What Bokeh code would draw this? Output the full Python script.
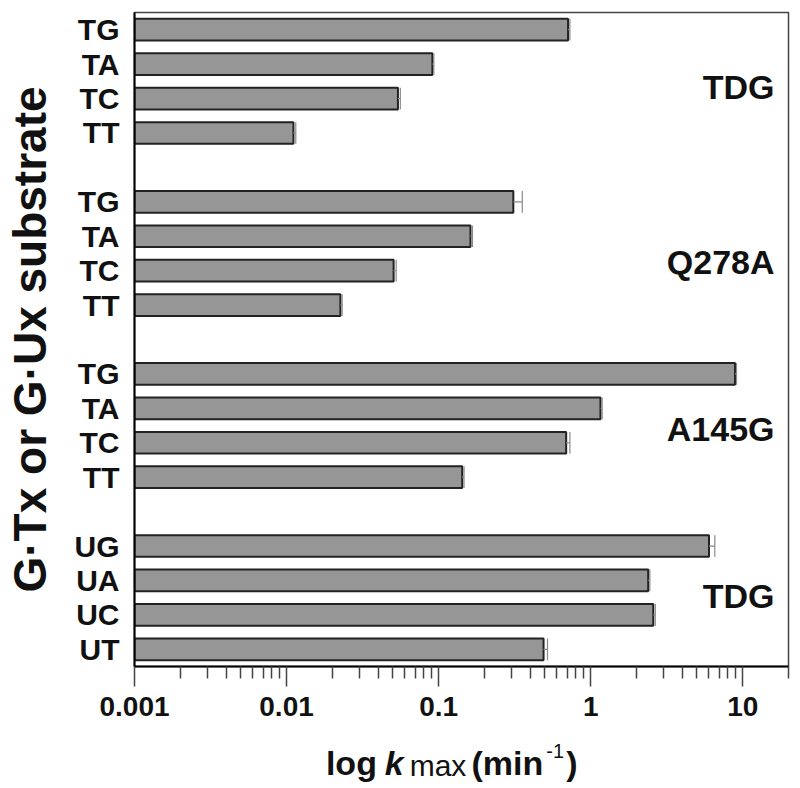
from bokeh.plotting import figure
from bokeh.layouts import column
from bokeh.models import Range1d, FixedTicker, Label, ColumnDataSource
from bokeh.core.properties import value
from bokeh.embed import file_html
from bokeh.resources import INLINE

# ---- data ----
groups = ["TDG", "Q278A", "A145G", "TDG"]
substrates_t = ["TG", "TA", "TC", "TT"]
substrates_u = ["UG", "UA", "UC", "UT"]

kmax_tdg_t = [0.71, 0.091, 0.054, 0.0111]
err_tdg_t = [0.02, 0.002, 0.002, 0.0004]
kmax_q278a = [0.31, 0.162, 0.0506, 0.0226]
err_q278a = [0.045, 0.005, 0.002, 0.0006]
kmax_a145g = [8.9, 1.16, 0.69, 0.143]
err_a145g = [0.2, 0.03, 0.04, 0.004]
kmax_tdg_u = [6.0, 2.39, 2.58, 0.49]
err_tdg_u = [0.55, 0.06, 0.08, 0.03]

x_ticks = [0.001, 0.01, 0.1, 1, 10]
x_tick_labels = ["0.001", "0.01", "0.1", "1", "10"]
y_title = "G\u00b7Tx or G\u00b7Ux substrate"
x_title_parts = ["log", "k", "max", "(min", "-1", ")"]

# ---- assemble ----
group_subs = [substrates_t, substrates_t, substrates_t, substrates_u]
group_vals = [kmax_tdg_t, kmax_q278a, kmax_a145g, kmax_tdg_u]
group_errs = [err_tdg_t, err_q278a, err_a145g, err_tdg_u]

slot = 5
ys, vs, es, names = [], [], [], []
for g in range(len(groups)):
    for i in range(len(group_subs[g])):
        ys.append(g * slot + i)
        vs.append(group_vals[g][i])
        es.append(group_errs[g][i])
        names.append(group_subs[g][i])

bar_h = 0.63
src = ColumnDataSource(dict(
    y=ys, v=vs, hi=[v + e for v, e in zip(vs, es)],
    ytop=[y - bar_h / 2 for y in ys], ybot=[y + bar_h / 2 for y in ys],
))

x_start, x_end = 0.001, 20
y_top_lim, y_bot_lim = -0.5, len(groups) * slot - 1.5

FONT = "Liberation Sans"
INK = "#111111"

W = 800
BL, BR = 132, 12
MAIN_H = 735
BOT_H = 53

p = figure(width=W, height=MAIN_H, x_axis_type="log", title=None,
           x_range=Range1d(x_start, x_end), y_range=Range1d(y_bot_lim, y_top_lim),
           output_backend="svg", toolbar_location=None,
           min_border_left=BL, min_border_right=BR, min_border_top=12, min_border_bottom=69)

p.hbar(y="y", left=x_start, right="v", height=bar_h, source=src,
       fill_color="#969696", line_color="#222222", line_width=2)
p.segment(x0="v", x1="hi", y0="y", y1="y", source=src, line_color="#8a8a8a", line_width=1.2)
p.segment(x0="hi", x1="hi", y0="ytop", y1="ybot", source=src, line_color="#8a8a8a", line_width=1.2)

p.xgrid.visible = False
p.ygrid.visible = False
p.outline_line_color = "#444444"
p.outline_line_width = 1.5

minor = [m * 10.0 ** e for e in range(-3, 2) for m in range(2, 10) if m * 10.0 ** e <= x_end]
xa = p.xaxis[0]
xa.ticker = FixedTicker(ticks=x_ticks, minor_ticks=minor)
xa.major_label_overrides = dict(zip(x_ticks, x_tick_labels))
xa.major_label_text_font = FONT
xa.major_label_text_font_size = "28px"
xa.major_label_text_font_style = "bold"
xa.major_label_text_color = INK
xa.major_label_standoff = 10
xa.axis_line_color = "black"
xa.axis_line_width = 2
xa.major_tick_out = 20
xa.major_tick_in = 0
xa.minor_tick_out = 12
xa.minor_tick_in = 0
xa.major_tick_line_color = "#444444"
xa.minor_tick_line_color = "#444444"
xa.major_tick_line_width = 1.5
xa.minor_tick_line_width = 1.5

ya = p.yaxis[0]
ya.ticker = FixedTicker(ticks=ys)
ya.major_label_overrides = {y: n for y, n in zip(ys, names)}
ya.major_label_text_font = FONT
ya.major_label_text_font_size = "30px"
ya.major_label_text_font_style = "bold"
ya.major_label_text_color = INK
ya.major_label_standoff = 15
ya.major_tick_out = 0
ya.major_tick_in = 0
ya.minor_tick_out = 0
ya.minor_tick_in = 0
ya.axis_line_color = "black"
ya.axis_line_width = 2
ya.axis_label = y_title
ya.axis_label_text_font = FONT
ya.axis_label_text_font_size = "46px"
ya.axis_label_text_font_style = "bold"
ya.axis_label_text_color = INK
ya.axis_label_standoff = 16

# group labels (inside the frame)
label_shift = [0.15, 0.26, 0.11, -0.06]
for g, name in enumerate(groups):
    p.add_layout(Label(x=x_end, y=g * slot + 1.5 + label_shift[g], x_offset=-14,
                       text=name, text_align="right", text_baseline="middle",
                       text_font=FONT, text_font_size="34px", text_font_style="bold",
                       text_color=INK))

# x title panel (mixed styles), frame aligned with the main frame
fw = W - BL - BR
bx = figure(width=W, height=BOT_H, title=None, x_range=Range1d(0, fw), y_range=Range1d(BOT_H, 0),
            output_backend="svg", toolbar_location=None,
            x_axis_location=None, y_axis_location=None,
            min_border_left=BL, min_border_right=BR, min_border_top=0, min_border_bottom=0)
bx.xgrid.visible = False
bx.ygrid.visible = False
bx.outline_line_color = None
styles = [
    (192, 27, "34px", "bold"),
    (251, 27, "34px", "bold italic"),
    (276, 30, "30px", "normal"),
    (338, 27, "34px", "bold"),
    (413, 15, "20px", "normal"),
    (433, 27, "34px", "bold"),
]
for t, (xx, yy, fs, st) in zip(x_title_parts, styles):
    bx.text(x=[xx], y=[yy], text=[t], text_align="left", text_baseline="alphabetic",
            text_font=value(FONT), text_font_size=fs, text_font_style=st,
            text_color=INK)

layout = column(p, bx, spacing=0)

open("out.html", "w").write(file_html(layout, INLINE))
